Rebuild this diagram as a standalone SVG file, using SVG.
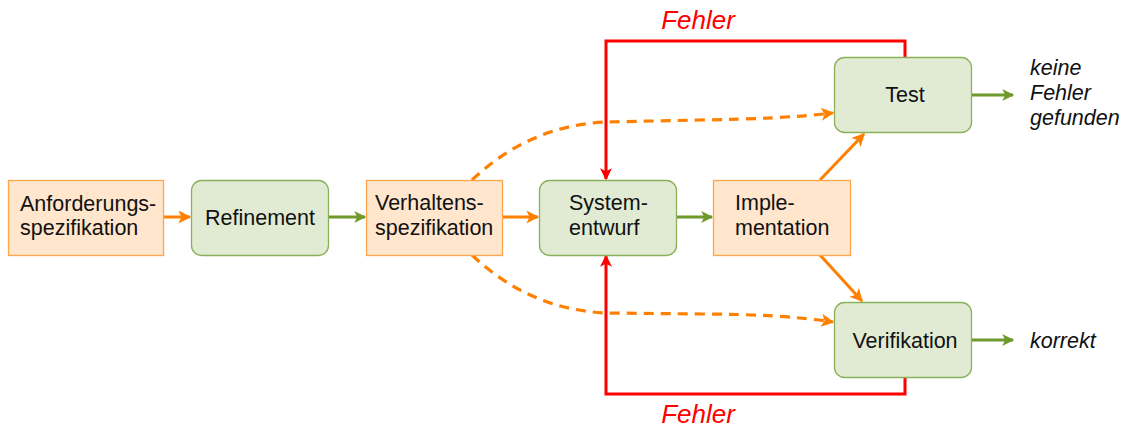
<svg xmlns="http://www.w3.org/2000/svg" width="1129" height="427" viewBox="0 0 1129 427">
  <defs>
    <marker id="ahOrange" viewBox="0 0 10 10" refX="9" refY="5" markerWidth="14" markerHeight="13" markerUnits="userSpaceOnUse" orient="auto">
      <path d="M0,0 L10,5 L0,10 L2.5,5 Z" fill="#ff8000"/>
    </marker>
    <marker id="ahGreen" viewBox="0 0 10 10" refX="9" refY="5" markerWidth="13" markerHeight="12" markerUnits="userSpaceOnUse" orient="auto">
      <path d="M0,0 L10,5 L0,10 L2.5,5 Z" fill="#6f9a2b"/>
    </marker>
    <marker id="ahRed" viewBox="0 0 10 10" refX="9" refY="5" markerWidth="13" markerHeight="12" markerUnits="userSpaceOnUse" orient="auto">
      <path d="M0,0 L10,5 L0,10 L2.5,5 Z" fill="#ff0000"/>
    </marker>
  </defs>
  <style>
    .spec { fill: #ffe6cc; stroke: #ffa64d; stroke-width: 1.3; }
    .step { fill: #e1ebd3; stroke: #8bb05a; stroke-width: 1.3; }
    text { font-family: "Liberation Sans", Arial, sans-serif; font-size: 21.5px; fill: #111; }
    .c { text-anchor: middle; }
    .it { font-style: italic; }
    .err { fill: #ff0000; font-size: 26px; font-style: italic; text-anchor: middle; }
    .orange { stroke: #ff8000; stroke-width: 3; fill: none; marker-end: url(#ahOrange); }
    .dash { stroke-dasharray: 10 7; stroke-width: 3.2; }
    .green { stroke: #6f9a2b; stroke-width: 3; fill: none; marker-end: url(#ahGreen); }
    .red { stroke: #ff0000; stroke-width: 3; fill: none; marker-end: url(#ahRed); }
  </style>

  <g id="connectors">
    <line class="orange" x1="163" y1="217" x2="190" y2="217"/>
    <line class="green" x1="328" y1="217" x2="365" y2="217"/>
    <line class="orange" x1="502" y1="217" x2="538" y2="217"/>
    <line class="green" x1="676" y1="217" x2="712" y2="217"/>
    <line class="orange" x1="820" y1="180" x2="864" y2="134"/>
    <line class="orange" x1="820" y1="255" x2="862" y2="301"/>
    <line class="green" x1="972" y1="95" x2="1013" y2="95"/>
    <line class="green" x1="972" y1="340" x2="1013" y2="340"/>
    <path class="orange dash" d="M472,180 Q530,125 607,122 L700,120 Q780,119 833,113"/>
    <path class="orange dash" d="M472,255 Q530,310 607,313 L700,314 Q780,314 833,322"/>
    <path class="red" d="M905,57 V41 H606 V179"/>
    <path class="red" d="M905,378 V394 H606 V256"/>
  </g>

  <g id="label-fehler-top"><text class="err" x="698" y="29">Fehler</text></g>
  <g id="label-fehler-bottom"><text class="err" x="698" y="423">Fehler</text></g>

  <g id="anforderungsspezifikation">
    <rect class="spec" x="8.5" y="180.5" width="155" height="75"/>
    <text x="20" y="211">Anforderungs-</text>
    <text x="20" y="235">spezifikation</text>
  </g>

  <g id="refinement">
    <rect class="step" x="191.5" y="180.5" width="137" height="75" rx="10"/>
    <text class="c" x="260" y="225">Refinement</text>
  </g>

  <g id="verhaltensspezifikation">
    <rect class="spec" x="366.5" y="180.5" width="136" height="75"/>
    <text x="375" y="210">Verhaltens-</text>
    <text x="375" y="235">spezifikation</text>
  </g>

  <g id="systementwurf">
    <rect class="step" x="539.5" y="180.5" width="137" height="75" rx="10"/>
    <text x="569" y="210">System-</text>
    <text x="569" y="235">entwurf</text>
  </g>

  <g id="implementation">
    <rect class="spec" x="713.5" y="180.5" width="137" height="75"/>
    <text x="735" y="210">Imple-</text>
    <text x="735" y="235">mentation</text>
  </g>

  <g id="test">
    <rect class="step" x="834.5" y="57.5" width="137" height="75" rx="10"/>
    <text class="c" x="905" y="102">Test</text>
  </g>

  <g id="verifikation">
    <rect class="step" x="834.5" y="302.5" width="137" height="75" rx="10"/>
    <text class="c" x="905" y="348">Verifikation</text>
  </g>

  <g id="result-test">
    <text class="it" x="1030" y="75">keine</text>
    <text class="it" x="1030" y="100">Fehler</text>
    <text class="it" x="1030" y="125">gefunden</text>
  </g>

  <g id="result-verifikation">
    <text class="it" x="1030" y="348">korrekt</text>
  </g>
</svg>
